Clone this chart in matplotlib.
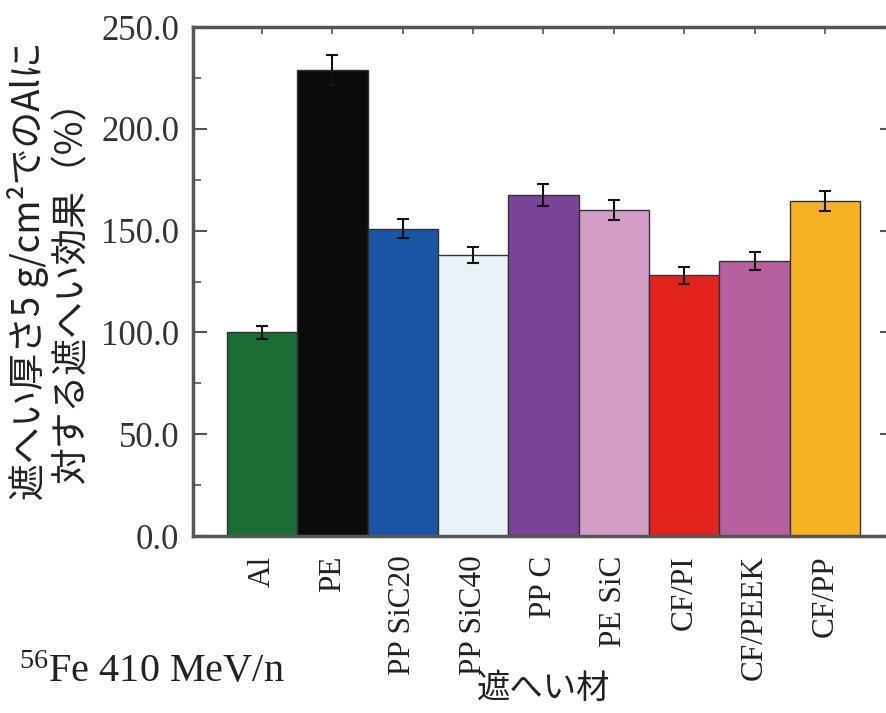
import matplotlib
matplotlib.use('Agg')
from matplotlib import pyplot as plt
from matplotlib.ticker import MultipleLocator

materials = ['Al', 'PE', 'PP SiC20', 'PP SiC40', 'PP C', 'PE SiC', 'CF/PI', 'CF/PEEK', 'CF/PP']
effect = [100.0, 229.0, 151.0, 138.0, 167.5, 160.0, 128.0, 135.0, 164.5]
effect_err = [3.0, 7.5, 4.5, 4.0, 5.5, 5.0, 4.0, 4.5, 5.0]
colors = ['#1b6c35', '#0a0c0c', '#1a55a5', '#e9f3f7', '#7b4397',
          '#d49dc8', '#e2231d', '#b7609f', '#f4b223']
yticks = [0, 50, 100, 150, 200, 250]

serif = 'Liberation Serif'
jp = ['Noto Sans CJK JP', 'DejaVu Sans']
plt.rcParams['mathtext.fontset'] = 'custom'
plt.rcParams['mathtext.rm'] = serif

fig = plt.figure(figsize=(8.86, 7.13), dpi=100)
ax = fig.add_axes([0.2178, 0.2482, 0.7912, 0.7139])

x = list(range(len(materials)))
ax.bar(x, effect, width=1.0, color=colors, edgecolor='#333333', linewidth=1.0)
ax.errorbar(x, effect, yerr=effect_err, fmt='none', ecolor='#111111',
            elinewidth=1.5, capsize=4, capthick=1.5)

ax.set_xlim(-0.98, 8.98)
ax.set_ylim(0, 250)
ax.yaxis.set_minor_locator(MultipleLocator(25))
ax.set_yticks(yticks)
ax.set_yticklabels(['%.1f' % v for v in yticks],
                   fontfamily=serif, fontsize=25, color='#333333')
ax.set_xticks(x)
ax.set_xticklabels(materials, rotation=90, fontfamily=serif, fontsize=22.5,
                   color='#222222')

ax.tick_params(axis='y', which='major', direction='in', length=10, width=1.5,
               right=True, color='#555555', pad=10)
ax.tick_params(axis='y', which='minor', direction='in', length=6, width=1.2,
               right=True, color='#555555')
ax.tick_params(axis='x', which='major', direction='in', length=5, width=1.2,
               top=True, bottom=False, color='#555555', pad=14)

for s in ax.spines.values():
    s.set_linewidth(2.5)
    s.set_color('#555555')

ax.set_xlabel('遮へい材', family=jp, fontsize=24, color='#222222')
ax.xaxis.set_label_coords(0.5, -0.265)

fig.text(0.032, 0.62, '遮へい厚さ5 g/cm²でのAlに', family=jp, fontsize=26.5,
         rotation=90, ha='center', va='center', color='#222222')
fig.text(0.081, 0.604, '対する遮へい効果（%）', family=jp, fontsize=26.5,
         rotation=90, ha='center', va='center', color='#222222')

fig.text(0.022, 0.0435, r'$\mathrm{^{56}}$Fe 410 MeV/n', family=serif, fontsize=29,
         ha='left', va='baseline', color='#222222')

fig.savefig('out.png', dpi=100)
